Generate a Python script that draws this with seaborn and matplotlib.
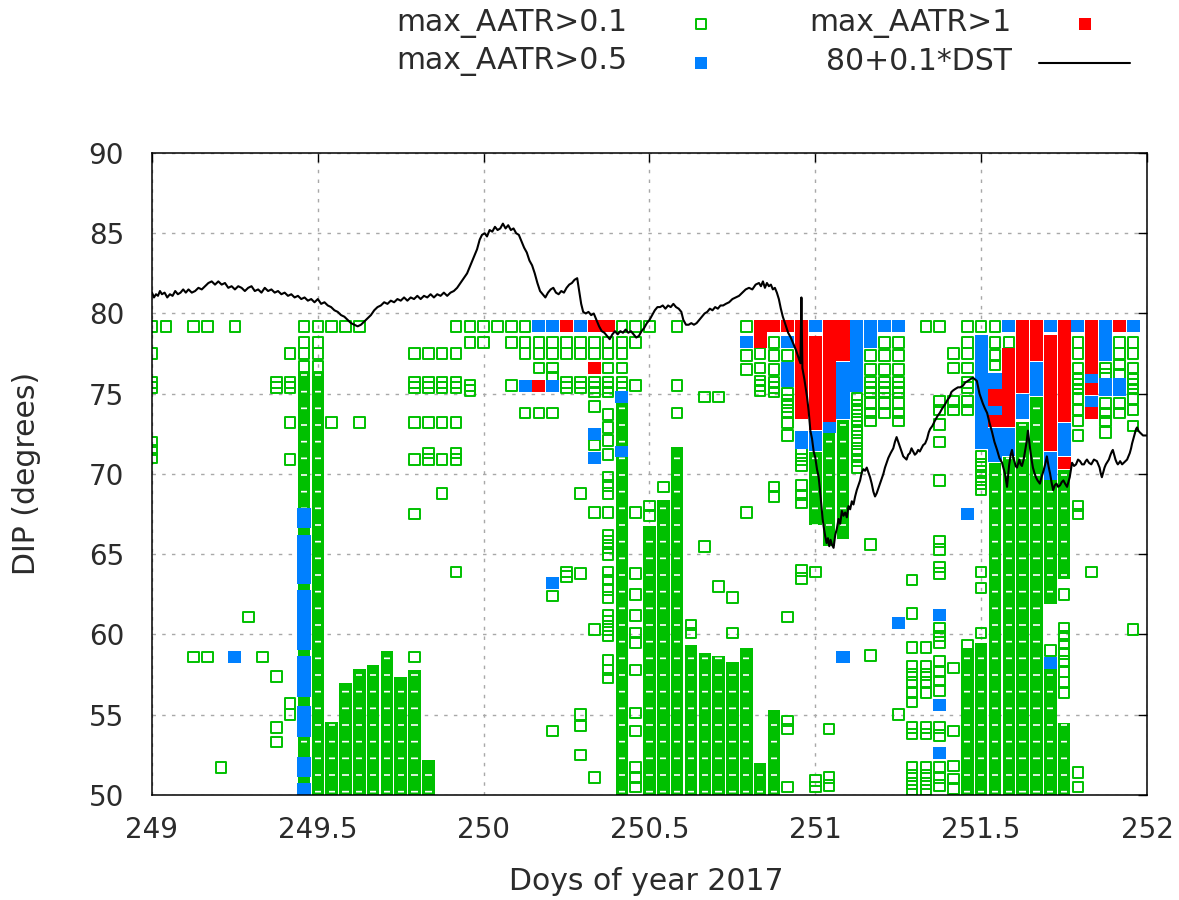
import numpy as np
import matplotlib
matplotlib.use("Agg")
import matplotlib.pyplot as plt
import seaborn as sns

# Hour-of-day columns (x = 249 + hour/24); dip values of the squares in each column
green_sq = {
    0: "79.2 77.5 75.7 75.4 72.0 71.5 71.0",
    1: "79.2",
    3: "79.2 58.6",
    4: "79.2 58.6",
    5: "51.7",
    6: "79.2",
    7: "61.1",
    8: "58.6",
    9: "75.7 75.4 57.4 54.2 53.3",
    10: "77.5 75.7 75.4 73.2 70.9 55.7 55.0",
    11: "79.2 78.2 77.5 76.7 55.8 53.2 52.7",
    12: "79.2 78.2 77.5 76.7",
    13: "79.2 73.2",
    14: "79.2",
    15: "79.2 73.2",
    19: "77.5 75.7 75.4 73.2 70.9 67.5 58.6",
    20: "77.5 75.7 75.4 73.2 71.3 70.9",
    21: "77.5 75.7 75.4 73.2 70.9 68.8",
    22: "79.2 77.5 75.7 75.4 73.2 71.3 70.9 63.9",
    23: "79.2 78.2 75.5 75.2",
    24: "79.2 78.2",
    25: "79.2",
    26: "79.2 78.2 75.5",
    27: "79.2 78.2 77.5 73.8",
    28: "78.2 77.5 76.6 73.8",
    29: "78.2 77.5 76.6 76.0 73.8 62.4 54.0",
    30: "78.2 77.5 75.7 75.4 63.9 63.6",
    31: "78.2 77.5 75.7 75.4 68.8 63.8 55.0 54.3 52.5",
    32: "78.2 77.5 75.7 75.4 75.1 74.2 71.8 67.6 60.3 51.1",
    33: "78.2 77.5 76.6 75.7 75.4 75.1 73.7 72.9 72.1 71.2 69.8 69.3 68.8 67.6 "
        "66.2 65.8 65.4 65.0 63.9 63.4 62.8 62.3 61.2 60.8 60.3 59.9 58.4 57.8 57.3",
    34: "79.2 78.2 77.5 76.6 75.7 75.4",
    35: "79.2 78.2 75.5 67.6 63.8 62.5 61.2 60.1 59.5 57.8 55.1 54.0 51.7 51.1 50.5",
    36: "79.2 68.0 67.4",
    37: "69.2",
    38: "79.2 75.5 73.8",
    39: "60.6 60.1",
    40: "74.8 65.5",
    41: "74.8 63.0",
    42: "62.3 60.1",
    43: "79.2 77.4 76.5 67.6",
    44: "77.5 76.6 75.8 75.5 75.2",
    45: "78.2 77.4 76.5 75.7 75.4 75.1 69.2 68.6",
    46: "77.4 75.0 74.6 74.2 73.8 73.2 72.4 61.1 54.6 54.1 50.5",
    47: "71.3 70.9 70.5 69.3 68.7 68.2 64.0 63.5",
    48: "63.9 50.9 50.5",
    49: "54.1 51.1 50.6",
    51: "74.7 74.3 73.9 73.4 73.0 72.6 72.1 71.6 71.2 70.8 70.4",
    52: "77.4 76.5 75.7 75.4 75.1 74.4 73.8 73.3 65.6 58.7",
    53: "78.2 77.4 76.5 75.7 75.4 75.1 74.4 73.8",
    54: "78.2 77.4 76.5 75.7 75.4 75.1 74.4 73.8 73.3 55.0",
    55: "63.4 61.3 59.2 58.0 57.5 57.0 56.4 55.8 54.2 53.8 51.7 51.2 50.7 50.3",
    56: "79.2 59.2 58.0 57.5 57.0 56.4 54.2 53.8 51.7 51.2 50.7 50.3",
    57: "79.2 74.5 74.0 73.1 72.0 69.6 65.8 65.3 64.2 63.8 60.4 59.9 59.5 58.3 57.7 "
        "57.1 56.5 54.2 53.7 51.7 51.1 50.6",
    58: "77.5 76.6 74.5 74.0 57.9 54.0 51.8 51.0 50.4",
    59: "79.2 78.2 77.5 76.6 75.7 75.4 74.5 74.0 59.3",
    60: "79.2 71.1 70.6 70.2 69.8 69.4 69.0 63.9 62.9 60.1",
    61: "79.2 78.2 77.4 76.8",
    62: "78.2",
    65: "62.6 59.0",
    66: "62.5 60.4 59.9 59.4 58.8 58.3 57.7 57.0 56.4",
    67: "78.2 77.5 76.6 75.9 75.6 75.3 74.7 74.0 73.3 72.4 68.0 67.5 51.4 50.5",
    68: "63.9",
    69: "76.6 76.2 74.4 73.8 73.3 72.6",
    70: "78.2 77.5 76.8 76.2 74.4 73.8",
    71: "78.2 77.5 76.6 75.9 75.6 75.3 74.7 74.0 73.0 60.3",
}

# solid runs of squares: (hour, lowest dip, highest dip)
green_runs = [
    (11, 50.3, 76.0), (12, 50.3, 76.0), (13, 50.3, 54.2), (14, 50.3, 56.6),
    (15, 50.3, 57.5), (16, 50.3, 57.7), (17, 50.3, 58.6), (18, 50.3, 57.0),
    (19, 50.3, 57.4), (20, 50.3, 51.8), (34, 50.3, 74.1), (36, 50.3, 66.4),
    (37, 50.3, 68.0), (38, 50.3, 71.3), (39, 50.3, 59.0), (40, 50.3, 58.5),
    (41, 50.3, 58.3), (42, 50.3, 57.9), (43, 50.3, 58.8), (44, 50.3, 51.6),
    (45, 50.3, 54.9), (48, 67.2, 71.0), (49, 65.9, 72.3), (50, 66.3, 73.0),
    (59, 50.3, 58.8), (60, 50.3, 59.1), (61, 50.3, 70.3), (62, 50.3, 70.7),
    (63, 50.3, 72.9), (64, 50.3, 74.4), (65, 62.3, 69.6), (65, 50.3, 57.6),
    (66, 63.8, 69.9), (66, 50.3, 54.1),
]

blue_runs = [
    (6, 58.6, 58.6),
    (11, 67.0, 67.5), (11, 63.5, 65.8), (11, 59.4, 62.4), (11, 56.5, 58.3),
    (11, 54.0, 55.2), (11, 51.5, 52.0), (11, 50.3, 50.4),
    (27, 75.5, 75.5), (28, 79.2, 79.2), (29, 79.2, 79.2), (29, 75.5, 75.5),
    (29, 63.2, 63.2), (31, 79.2, 79.2), (32, 72.5, 72.5), (32, 71.0, 71.0),
    (34, 74.8, 74.8), (34, 71.4, 71.4), (43, 78.2, 78.2),
    (46, 78.2, 78.2), (46, 75.8, 76.6), (47, 71.9, 72.3),
    (48, 79.2, 79.2), (48, 71.8, 72.3), (49, 72.9, 72.9),
    (50, 73.8, 76.6), (50, 58.6, 58.6), (51, 75.5, 79.2),
    (52, 78.2, 79.2), (53, 79.2, 79.2), (54, 79.2, 79.2), (54, 60.7, 60.7),
    (57, 61.2, 61.2), (57, 55.6, 55.6), (57, 52.6, 52.6), (59, 67.5, 67.5),
    (60, 71.9, 78.3), (61, 75.6, 75.9), (61, 73.95, 73.95), (61, 71.1, 72.5),
    (62, 79.2, 79.2), (62, 71.5, 72.5), (63, 73.8, 74.6), (64, 75.2, 76.6),
    (65, 79.2, 79.2), (65, 70.0, 71.0), (65, 58.2, 58.2), (66, 71.5, 72.8),
    (67, 79.2, 79.2), (68, 76.0, 76.0), (68, 74.5, 74.5),
    (69, 77.4, 79.2), (69, 75.2, 75.6), (70, 75.2, 75.6), (71, 79.2, 79.2),
]

red_runs = [
    (28, 75.5, 75.5), (30, 79.2, 79.2), (32, 79.2, 79.2), (32, 76.6, 76.6),
    (33, 79.2, 79.2), (44, 78.2, 79.2), (45, 79.2, 79.2), (46, 79.2, 79.2),
    (47, 73.8, 79.2), (48, 73.1, 78.2), (49, 73.6, 79.2), (50, 77.4, 79.2),
    (61, 74.6, 74.9), (61, 73.3, 73.3), (62, 73.3, 77.5), (63, 75.4, 79.2),
    (64, 77.4, 79.2), (65, 71.8, 78.3), (66, 73.6, 79.2), (66, 70.7, 70.7),
    (68, 76.6, 79.2), (68, 75.3, 75.3), (68, 73.8, 73.8), (70, 79.2, 79.2),
]

# 80 + 0.1*DST, (day, value)
dst = """
249.000 81.3 249.006 81.0 249.012 81.2 249.018 81.1 249.024 81.4 249.030 81.2
249.038 81.3 249.046 81.0 249.054 81.2 249.062 81.1 249.070 81.4 249.078 81.2
249.086 81.3 249.094 81.5 249.102 81.3 249.110 81.5 249.120 81.3 249.130 81.4
249.140 81.6 249.150 81.5 249.160 81.7 249.170 81.9 249.180 82.0 249.190 81.8
249.200 82.0 249.210 81.8 249.220 81.9 249.230 81.6 249.240 81.7 249.250 81.5
249.260 81.7 249.270 81.6 249.280 81.4 249.290 81.6 249.300 81.7 249.310 81.4
249.320 81.5 249.330 81.3 249.340 81.6 249.350 81.4 249.360 81.5 249.370 81.3
249.380 81.4 249.390 81.2 249.400 81.3 249.410 81.1 249.420 81.2 249.430 81.0
249.440 81.1 249.450 80.9 249.460 81.0 249.470 80.8 249.480 80.9 249.490 80.7
249.500 80.9 249.510 80.6 249.520 80.7 249.530 80.5 249.540 80.4 249.550 80.2
249.560 80.1 249.570 79.9 249.580 79.8 249.590 79.6 249.600 79.4 249.610 79.3
249.620 79.2 249.630 79.3 249.640 79.5 249.650 79.7 249.660 79.9 249.670 80.2
249.680 80.4 249.690 80.5 249.700 80.7 249.710 80.6 249.720 80.8 249.730 80.7
249.740 80.9 249.750 80.8 249.760 81.0 249.770 80.8 249.780 81.0 249.790 80.9
249.800 81.1 249.810 80.9 249.820 81.1 249.830 81.0 249.840 81.2 249.850 81.0
249.860 81.2 249.870 81.1 249.880 81.3 249.890 81.1 249.900 81.3 249.910 81.4
249.920 81.6 249.930 81.9 249.940 82.2 249.950 82.5 249.960 83.0 249.970 83.5
249.980 84.0 249.988 84.6 249.995 84.9 250.003 85.0 250.010 84.8 250.018 85.2
250.026 85.1 250.034 85.4 250.042 85.2 250.050 85.3 250.058 85.6 250.066 85.3
250.074 85.5 250.082 85.2 250.090 85.3 250.098 85.0 250.106 84.9 250.114 84.5
250.122 84.1 250.130 83.8 250.138 83.3 250.146 83.0 250.154 82.5 250.162 81.9
250.170 81.4 250.178 81.2 250.186 81.0 250.194 81.3 250.202 81.5 250.210 81.6
250.218 81.3 250.226 81.2 250.234 81.4 250.242 81.3 250.250 81.6 250.258 81.8
250.266 81.9 250.274 82.1 250.282 82.2 250.288 81.4 250.294 80.6 250.300 80.1
250.308 80.0 250.316 80.1 250.324 79.9 250.332 80.0 250.340 79.6 250.348 79.2
250.356 78.9 250.364 78.8 250.372 78.6 250.380 78.4 250.388 78.7 250.396 78.9
250.404 78.7 250.412 78.9 250.420 78.8 250.428 79.0 250.436 78.8 250.444 78.9
250.452 78.7 250.460 78.5 250.468 78.6 250.476 78.9 250.484 79.1 250.492 79.4
250.500 79.6 250.508 79.9 250.516 80.2 250.524 80.4 250.532 80.4 250.540 80.5
250.548 80.3 250.556 80.5 250.564 80.4 250.572 80.6 250.580 80.4 250.588 80.3
250.596 80.1 250.602 79.6 250.610 79.3 250.618 79.3 250.626 79.4 250.634 79.3
250.642 79.4 250.650 79.6 250.658 79.8 250.666 80.0 250.674 80.1 250.682 80.3
250.690 80.2 250.698 80.4 250.706 80.3 250.714 80.5 250.722 80.5 250.730 80.6
250.740 80.7 250.750 80.9 250.760 81.0 250.770 81.1 250.780 81.3 250.790 81.5
250.800 81.6 250.810 81.5 250.820 81.8 250.830 81.9 250.836 81.7 250.842 82.0
250.848 81.6 250.854 81.9 250.860 81.7 250.866 81.8 250.872 81.5 250.878 81.6
250.884 81.3 250.890 80.9 250.896 80.3 250.902 79.8 250.910 79.3 250.918 78.8
250.926 78.5 250.934 78.1 250.942 77.7 250.950 77.2 250.955 76.9 250.958 81.0
250.961 76.6 250.967 75.9 250.975 74.8 250.980 73.9 250.985 72.7 250.990 72.2
250.995 71.4 251.000 71.0 251.005 70.3 251.010 69.8 251.014 69.0 251.018 68.1
251.022 67.2 251.026 66.6 251.030 66.1 251.034 65.7 251.038 66.0 251.042 65.5
251.046 65.9 251.050 65.6 251.055 65.4 251.060 66.2 251.065 66.6 251.070 67.2
251.075 66.9 251.080 67.7 251.085 67.4 251.090 67.6 251.095 67.3 251.100 68.0
251.105 67.8 251.110 68.3 251.115 68.1 251.120 68.6 251.125 69.0 251.130 69.3
251.135 69.6 251.140 70.1 251.145 70.3 251.150 70.2 251.155 70.4 251.160 70.1
251.165 69.8 251.170 69.4 251.175 68.9 251.180 68.6 251.185 68.8 251.190 69.1
251.195 69.4 251.200 69.7 251.205 70.0 251.210 70.4 251.215 70.7 251.220 71.0
251.227 71.3 251.235 71.6 251.240 72.0 251.245 72.3 251.250 72.0 251.255 71.7
251.260 71.4 251.265 71.1 251.270 71.0 251.275 70.9 251.280 71.2 251.285 71.3
251.290 71.6 251.295 71.4 251.300 71.2 251.305 71.3 251.310 71.5 251.315 71.4
251.320 71.6 251.325 71.8 251.331 71.9 251.337 72.2 251.342 72.6 251.346 72.8
251.353 73.0 251.360 73.3 251.368 73.6 251.375 73.8 251.383 74.1 251.390 74.3
251.398 74.6 251.405 74.8 251.410 75.1 251.415 75.2 251.422 75.3 251.430 75.4
251.437 75.4 251.445 75.5 251.452 75.7 251.460 75.8 251.467 75.9 251.475 76.0
251.481 75.9 251.487 75.8 251.491 75.4 251.495 75.0 251.500 74.7 251.505 74.4
251.511 74.1 251.518 73.8 251.525 73.2 251.533 72.6 251.540 72.0 251.548 71.5
251.555 71.0 251.563 70.7 251.568 70.3 251.572 70.0 251.578 69.2 251.584 70.5
251.589 71.2 251.593 71.5 251.597 71.0 251.600 70.8 251.604 70.5 251.608 70.4
251.612 70.7 251.615 70.9 251.619 70.6 251.623 70.5 251.628 70.9 251.632 71.4
251.637 72.0 251.641 72.7 251.645 72.0 251.648 71.5 251.652 70.9 251.656 70.4
251.660 70.1 251.665 69.8 251.670 69.6 251.677 69.4 251.682 69.8 251.688 70.2
251.693 70.6 251.698 71.1 251.703 70.5 251.708 70.0 251.712 69.5 251.717 69.0
251.722 69.3 251.727 69.4 251.732 69.2 251.738 69.3 251.743 69.5 251.748 69.6
251.753 69.4 251.759 69.2 251.763 69.5 251.767 69.8 251.771 70.3 251.774 70.7
251.780 70.5 251.786 70.6 251.792 70.9 251.798 70.8 251.804 70.6 251.810 70.6
251.815 70.8 251.819 70.9 251.825 70.7 251.832 70.6 251.840 70.9 251.849 70.8
251.853 70.6 251.857 70.4 251.861 70.0 251.864 69.8 251.868 70.1 251.872 70.4
251.876 70.6 251.879 70.7 251.885 70.9 251.890 71.2 251.894 71.4 251.897 71.5
251.901 71.2 251.905 70.9 251.909 70.7 251.912 70.6 251.916 70.7 251.919 70.8
251.925 70.6 251.930 70.7 251.935 70.8 251.940 70.9 251.944 71.1 251.948 71.3
251.952 71.6 251.955 71.9 251.959 72.2 251.963 72.5 251.967 72.8 251.970 72.9
251.974 72.7 251.978 72.6 251.983 72.5 251.988 72.4 251.994 72.4 252.000 72.4
"""
dst_pairs = np.array(dst.split(), dtype=float).reshape(-1, 2)
dst_day = dst_pairs[:, 0]
dst_val = dst_pairs[:, 1]

GREEN = "#00c000"
BLUE = "#0080ff"
RED = "#ff0000"
TXT = "#2b2b2b"

sns.set_theme(style="white")
plt.rcParams["font.family"] = ["DejaVu Sans"]
plt.rcParams["hatch.linewidth"] = 1.2

W, H = 1179, 900
fig = plt.figure(figsize=(W / 100, H / 100), dpi=100)
ax = fig.add_axes([152 / W, 1 - 795 / H, (1147 - 152) / W, (795 - 153) / H])
ax.set_axisbelow(True)

half = 0.37          # half height of a square in degrees
sq_w = 0.0395        # width of a filled square in days


def runs_to_bars(runs, color, width, z, hatch=None, inner=None):
    xs = [249 + h / 24 for h, lo, hi in runs]
    bottoms = [lo - half for h, lo, hi in runs]
    heights = [hi - lo + 2 * half for h, lo, hi in runs]
    ax.bar(xs, heights, bottom=bottoms, width=width, color=color,
           linewidth=0, align="center", zorder=z)
    if hatch:
        # white gaps that show between stacked open squares
        ax.bar(xs, heights, bottom=bottoms, width=inner, facecolor=color,
               edgecolor="white", hatch=hatch, linewidth=0, align="center",
               zorder=z + 0.1)


# green open squares
gx, gy = [], []
for h, s in green_sq.items():
    for v in s.split():
        gx.append(249 + h / 24)
        gy.append(float(v))
sns.scatterplot(x=gx, y=gy, marker="s", s=58, color=GREEN, facecolors="none",
                edgecolor=GREEN, linewidth=1.4, ax=ax, zorder=3, legend=False)
runs_to_bars(green_runs, GREEN, 0.0378, 2, hatch="-", inner=0.019)
runs_to_bars(blue_runs, BLUE, sq_w, 3.5)
runs_to_bars(red_runs, RED, sq_w, 3.6)

sns.lineplot(x=dst_day, y=dst_val, color="black", linewidth=1.5,
             estimator=None, sort=False, ax=ax, zorder=5)

ax.set_xlim(249, 252)
ax.set_ylim(50, 90)
ax.set_xticks([249, 249.5, 250, 250.5, 251, 251.5, 252])
ax.set_xticklabels(["249", "249.5", "250", "250.5", "251", "251.5", "252"])
ax.set_yticks(np.arange(50, 91, 5))
ax.grid(True, color="#a8a8a8", linestyle=(0, (2.5, 4.5)), linewidth=1.0)
ax.tick_params(direction="in", length=6.5, width=1.0, top=True, right=True,
               labelsize=20, colors="black", labelcolor=TXT)
ax.tick_params(axis="y", pad=20)
ax.tick_params(axis="x", pad=15)
for sp in ax.spines.values():
    sp.set_color("black")
    sp.set_linewidth(1.1)
    sp.set_zorder(6)
ax.set_xlabel("")
ax.set_ylabel("")

fs = 21.5
fig.text(27 / W, 1 - 473 / H, "DIP (degrees)", rotation=90, ha="center",
         va="center", fontsize=fs, color=TXT)
fig.text(646 / W, 1 - 882 / H, "Doys of year 2017", ha="center", va="center",
         fontsize=fs, color=TXT)

# legend (gnuplot style: right aligned text, sample on the right)
leg = fig.add_axes([0, 0, 1, 1], zorder=10)
leg.set_xlim(0, W)
leg.set_ylim(H, 0)
leg.axis("off")
leg.patch.set_alpha(0)
leg.text(627, 23, "max_AATR>0.1", ha="right", va="center", fontsize=fs, color=TXT)
leg.text(627, 62, "max_AATR>0.5", ha="right", va="center", fontsize=fs, color=TXT)
leg.text(1012, 23, "max_AATR>1", ha="right", va="center", fontsize=fs, color=TXT)
leg.text(1012, 62, "80+0.1*DST", ha="right", va="center", fontsize=fs, color=TXT)
leg.scatter([701], [24], marker="s", s=50, facecolors="none", edgecolors=GREEN,
            linewidths=1.4)
leg.scatter([701], [63], marker="s", s=64, color=BLUE, linewidths=0)
leg.scatter([1085], [24], marker="s", s=64, color=RED, linewidths=0)
leg.plot([1039, 1130], [63, 63], color="black", linewidth=1.5)

fig.savefig("out.png", dpi=100)
